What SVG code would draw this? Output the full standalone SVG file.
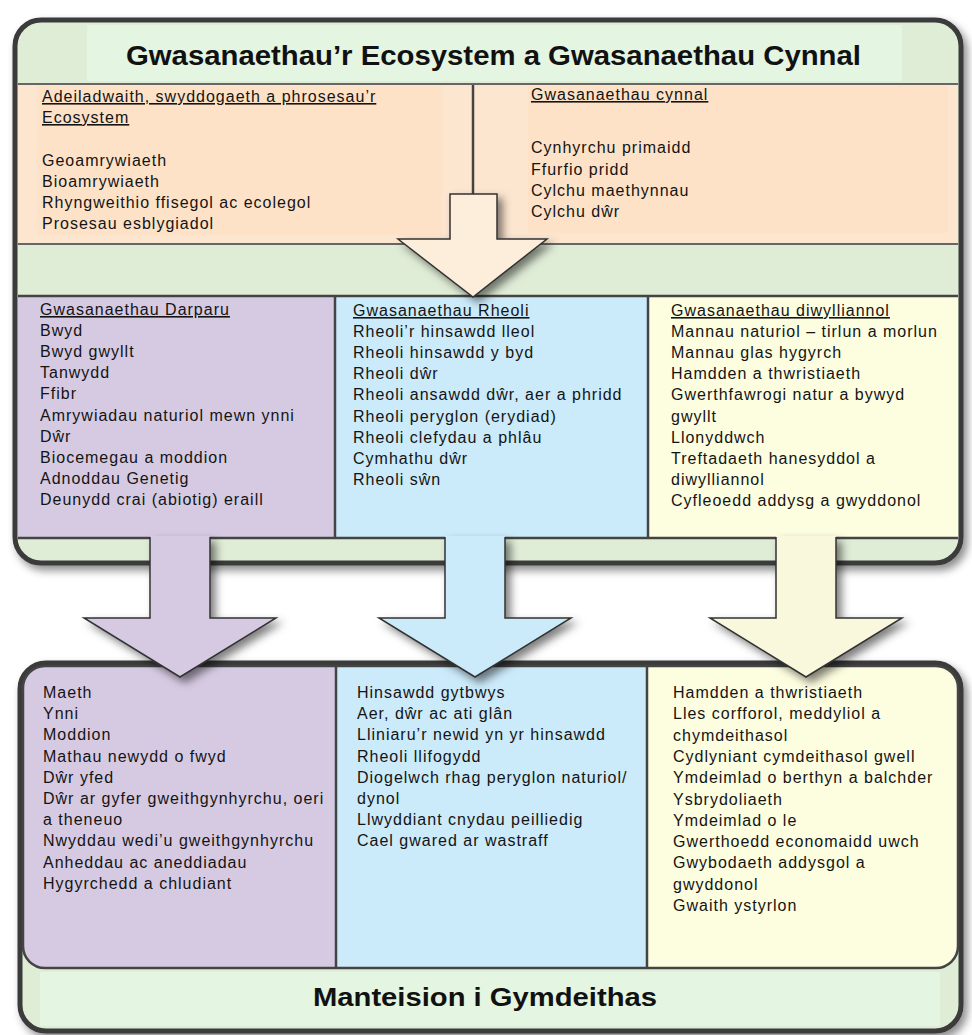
<svg xmlns="http://www.w3.org/2000/svg" width="972" height="1035" viewBox="0 0 972 1035">
<style>
.t{font-family:"Liberation Sans",Arial,sans-serif;font-size:16px;letter-spacing:1px;fill:#141414}
.u{text-decoration:underline}
.h{font-family:"Liberation Sans",Arial,sans-serif;font-weight:bold;fill:#111}
.frame{fill:#dfecd6;stroke:#3a3a3a;stroke-width:5}
.div{stroke:#444;stroke-width:2.5;fill:none}
.sep{stroke:#666;stroke-width:2;fill:none}
.ar{stroke:#333;stroke-width:1.5;stroke-linejoin:miter}
</style>
<defs>
<filter id="sh" x="-10%" y="-10%" width="125%" height="130%">
<feDropShadow dx="4" dy="5" stdDeviation="4" flood-color="#000" flood-opacity="0.45"/>
</filter>
<filter id="ash" x="-30%" y="-30%" width="170%" height="170%">
<feDropShadow dx="5" dy="5" stdDeviation="4" flood-color="#000" flood-opacity="0.5"/>
</filter>
<clipPath id="colclip"><rect x="23" y="666" width="935" height="302" rx="22"/></clipPath>
</defs>
<rect width="972" height="1035" fill="#fff"/>

<g id="top-box">
<rect class="frame" x="15" y="20" width="946" height="543" rx="26" filter="url(#sh)"/>
<g id="top-title">
<rect x="87" y="25" width="815" height="56" fill="#e4f5e1"/>
<text class="h" x="126" y="65" font-size="27" textLength="735" lengthAdjust="spacingAndGlyphs">Gwasanaethau’r Ecosystem a Gwasanaethau Cynnal</text>
</g>
<rect x="18" y="85" width="940" height="159" fill="#fde6d0"/>
<rect x="38" y="86" width="404" height="149" fill="#fde2c8"/>
<rect x="528" y="86" width="420" height="147" fill="#fde2c8"/>
<line class="sep" x1="18" y1="84" x2="958" y2="84"/>
<line class="sep" x1="18" y1="244" x2="958" y2="244"/>
<line class="div" x1="473" y1="85" x2="473" y2="195"/>
<g id="structure-function">
<text class="t" x="42" y="102"><tspan class="u">Adeiladwaith, swyddogaeth a phrosesau’r</tspan></text>
<text class="t" x="42" y="123"><tspan class="u">Ecosystem</tspan></text>
<text class="t" x="42" y="166">Geoamrywiaeth</text>
<text class="t" x="42" y="187">Bioamrywiaeth</text>
<text class="t" x="42" y="208">Rhyngweithio ffisegol ac ecolegol</text>
<text class="t" x="42" y="229">Prosesau esblygiadol</text>
</g>
<g id="supporting-services">
<text class="t" x="531" y="100"><tspan class="u">Gwasanaethau cynnal</tspan></text>
<text class="t" x="531" y="153">Cynhyrchu primaidd</text>
<text class="t" x="531" y="174.5">Ffurfio pridd</text>
<text class="t" x="531" y="196">Cylchu maethynnau</text>
<text class="t" x="531" y="217">Cylchu dŵr</text>
</g>
<g id="provisioning">
<rect x="18" y="296" width="317" height="242" fill="#d6cae2"/>
<text class="t" x="40" y="315"><tspan class="u">Gwasanaethau Darparu</tspan><tspan x="40" dy="21.1">Bwyd</tspan><tspan x="40" dy="21.1">Bwyd gwyllt</tspan><tspan x="40" dy="21.1">Tanwydd</tspan><tspan x="40" dy="21.1">Ffibr</tspan><tspan x="40" dy="21.1">Amrywiadau naturiol mewn ynni</tspan><tspan x="40" dy="21.1">Dŵr</tspan><tspan x="40" dy="21.1">Biocemegau a moddion</tspan><tspan x="40" dy="21.1">Adnoddau Genetig</tspan><tspan x="40" dy="21.1">Deunydd crai (abiotig) eraill</tspan></text>
</g>
<g id="regulating">
<rect x="335" y="296" width="313" height="242" fill="#cbeafa"/>
<text class="t" x="353" y="316"><tspan class="u">Gwasanaethau Rheoli</tspan><tspan x="353" dy="21.1">Rheoli’r hinsawdd lleol</tspan><tspan x="353" dy="21.1">Rheoli hinsawdd y byd</tspan><tspan x="353" dy="21.1">Rheoli dŵr</tspan><tspan x="353" dy="21.1">Rheoli ansawdd dŵr, aer a phridd</tspan><tspan x="353" dy="21.1">Rheoli peryglon (erydiad)</tspan><tspan x="353" dy="21.1">Rheoli clefydau a phlâu</tspan><tspan x="353" dy="21.1">Cymhathu dŵr</tspan><tspan x="353" dy="21.1">Rheoli sŵn</tspan></text>
</g>
<g id="cultural">
<rect x="648" y="296" width="310" height="242" fill="#fdfde0"/>
<text class="t" x="671" y="316"><tspan class="u">Gwasanaethau diwylliannol</tspan><tspan x="671" dy="21.1">Mannau naturiol – tirlun a morlun</tspan><tspan x="671" dy="21.1">Mannau glas hygyrch</tspan><tspan x="671" dy="21.1">Hamdden a thwristiaeth</tspan><tspan x="671" dy="21.1">Gwerthfawrogi natur a bywyd</tspan><tspan x="671" dy="21.1">gwyllt</tspan><tspan x="671" dy="21.1">Llonyddwch</tspan><tspan x="671" dy="21.1">Treftadaeth hanesyddol a</tspan><tspan x="671" dy="21.1">diwylliannol</tspan><tspan x="671" dy="21.1">Cyfleoedd addysg a gwyddonol</tspan></text>
</g>
<line class="div" x1="18" y1="296" x2="958" y2="296"/>
<line class="div" x1="18" y1="538" x2="958" y2="538"/>
<line class="div" x1="335" y1="296" x2="335" y2="538"/>
<line class="div" x1="648" y1="296" x2="648" y2="538"/>
</g>

<g id="bottom-box">
<rect class="frame" x="20" y="663" width="941" height="368" rx="26" filter="url(#sh)"/>
<g clip-path="url(#colclip)">
<rect x="23" y="666" width="313" height="302" fill="#d6cae2"/>
<rect x="336" y="666" width="311" height="302" fill="#cbeafa"/>
<rect x="647" y="666" width="311" height="302" fill="#fdfde0"/>
</g>
<rect x="23" y="666" width="935" height="302" rx="22" class="div"/>
<line class="div" x1="336" y1="666" x2="336" y2="968"/>
<line class="div" x1="647" y1="666" x2="647" y2="968"/>
<g id="benefits-provisioning">
<text class="t" x="43" y="698">Maeth<tspan x="43" dy="21.2">Ynni</tspan><tspan x="43" dy="21.2">Moddion</tspan><tspan x="43" dy="21.2">Mathau newydd o fwyd</tspan><tspan x="43" dy="21.2">Dŵr yfed</tspan><tspan x="43" dy="21.2">Dŵr ar gyfer gweithgynhyrchu, oeri</tspan><tspan x="43" dy="21.2">a theneuo</tspan><tspan x="43" dy="21.2">Nwyddau wedi’u gweithgynhyrchu</tspan><tspan x="43" dy="21.2">Anheddau ac aneddiadau</tspan><tspan x="43" dy="21.2">Hygyrchedd a chludiant</tspan></text>
</g>
<g id="benefits-regulating">
<text class="t" x="357" y="698">Hinsawdd gytbwys<tspan x="357" dy="21.2">Aer, dŵr ac ati glân</tspan><tspan x="357" dy="21.2">Lliniaru’r newid yn yr hinsawdd</tspan><tspan x="357" dy="21.2">Rheoli llifogydd</tspan><tspan x="357" dy="21.2">Diogelwch rhag peryglon naturiol/</tspan><tspan x="357" dy="21.2">dynol</tspan><tspan x="357" dy="21.2">Llwyddiant cnydau peilliedig</tspan><tspan x="357" dy="21.2">Cael gwared ar wastraff</tspan></text>
</g>
<g id="benefits-cultural">
<text class="t" x="673" y="698">Hamdden a thwristiaeth<tspan x="673" dy="21.3">Lles corfforol, meddyliol a</tspan><tspan x="673" dy="21.3">chymdeithasol</tspan><tspan x="673" dy="21.3">Cydlyniant cymdeithasol gwell</tspan><tspan x="673" dy="21.3">Ymdeimlad o berthyn a balchder</tspan><tspan x="673" dy="21.3">Ysbrydoliaeth</tspan><tspan x="673" dy="21.3">Ymdeimlad o le</tspan><tspan x="673" dy="21.3">Gwerthoedd economaidd uwch</tspan><tspan x="673" dy="21.3">Gwybodaeth addysgol a</tspan><tspan x="673" dy="21.3">gwyddonol</tspan><tspan x="673" dy="21.3">Gwaith ystyrlon</tspan></text>
</g>
<g id="bottom-title">
<rect x="40" y="972" width="900" height="54" fill="#e4f5e1"/>
<text class="h" x="313" y="1006" font-size="25" textLength="344" lengthAdjust="spacingAndGlyphs">Manteision i Gymdeithas</text>
</g>
</g>

<g id="connectors">
<g id="arrow-supporting" filter="url(#ash)">
<polygon class="ar" points="450,194 497,194 497,239 547,239 473,297 398,239 450,239" fill="#fdeedc"/>
</g>
<g id="arrow-provisioning" filter="url(#ash)">
<polygon points="150,536 210,536 210,618 276,618 180,677 84,618 150,618" fill="#d6cae2"/>
<polyline class="ar" fill="none" points="210,537 210,618 276,618 180,677 84,618 150,618 150,537"/>
</g>
<g id="arrow-regulating" filter="url(#ash)">
<polygon points="445,536 505,536 505,618 571,618 475,677 379,618 445,618" fill="#cbeafa"/>
<polyline class="ar" fill="none" points="505,537 505,618 571,618 475,677 379,618 445,618 445,537"/>
</g>
<g id="arrow-cultural" filter="url(#ash)">
<polygon points="776,536 836,536 836,618 902,618 806,677 710,618 776,618" fill="#f9f7dc"/>
<polyline class="ar" fill="none" points="836,537 836,618 902,618 806,677 710,618 776,618 776,537"/>
</g>
</g>
</svg>
